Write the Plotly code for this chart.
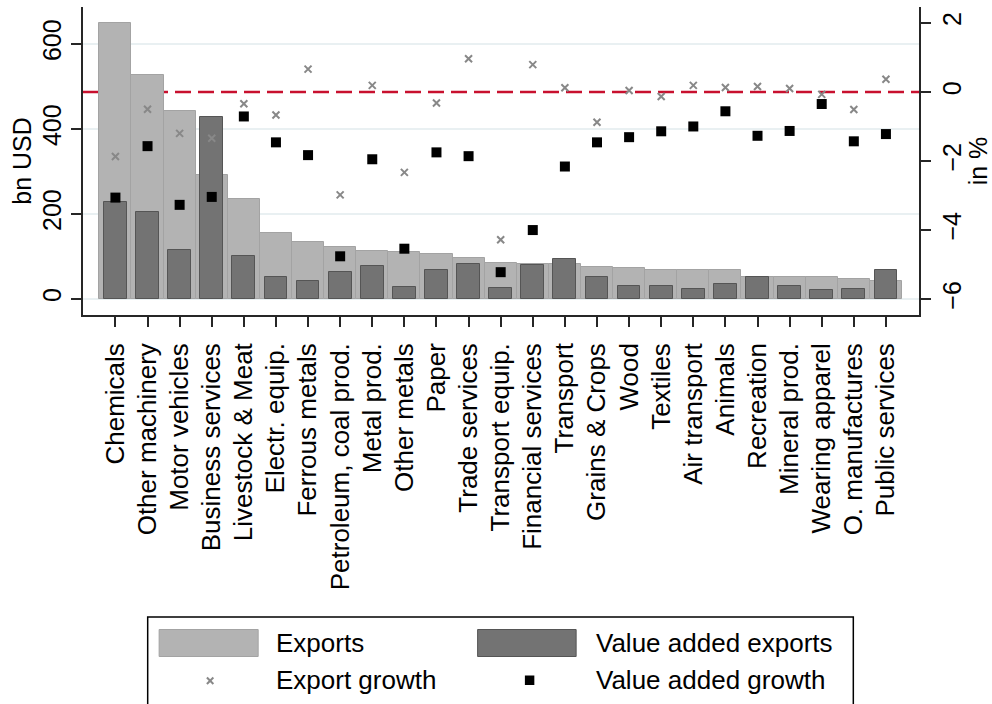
import plotly.graph_objects as go

# ---------------- data ----------------
categories = ["Chemicals", "Other machinery", "Motor vehicles", "Business services",
              "Livestock & Meat", "Electr. equip.", "Ferrous metals", "Petroleum, coal prod.",
              "Metal prod.", "Other metals", "Paper", "Trade services", "Transport equip.",
              "Financial services", "Transport", "Grains & Crops", "Wood", "Textiles",
              "Air transport", "Animals", "Recreation", "Mineral prod.", "Wearing apparel",
              "O. manufactures", "Public services"]

exports = [649, 528, 442, 292, 235, 155, 133, 122, 113, 110, 105, 97, 85, 82, 81,
           75, 72, 67.5, 67.5, 67, 52, 51, 50.5, 46.5, 42.5]

va_exports = [228, 205, 115, 428, 100, 52, 42, 63, 77, 27.5, 67.5, 83, 26.5, 79, 94,
              52, 29.5, 30.5, 23.5, 34.5, 51, 30, 22, 23.5, 67.5]

export_growth = [-1.87, -0.50, -1.20, -1.34, -0.34, -0.67, 0.66, -2.98, 0.19, -2.33,
                 -0.32, 0.96, -4.28, 0.79, 0.12, -0.88, 0.04, -0.13, 0.19, 0.13,
                 0.16, 0.10, -0.07, -0.51, 0.37]

va_growth = [-3.06, -1.57, -3.27, -3.04, -0.71, -1.46, -1.83, -4.76, -1.95, -4.54,
             -1.75, -1.86, -5.22, -4.00, -2.16, -1.46, -1.31, -1.14, -1.00, -0.56,
             -1.27, -1.13, -0.35, -1.43, -1.22]

left_ticks = [0, 200, 400, 600]
right_ticks = [-6, -4, -2, 0, 2]
legend_labels = ["Exports", "Value added exports", "Export growth", "Value added growth"]

# ---------------- styling ----------------
FONT = "Liberation Sans"
LIGHT = "#b3b3b3"
DARK = "#737373"
AXIS = "#262626"
GRID = "#e9f0f2"
RED = "#c8102e"

W, H = 992, 704
L, R, T, B = 83, 69, 7, 389
PW, PH = W - L - R, H - T - B


def px(x):
    return (x - L) / PW


def py(y):
    return (H - B - y) / PH


fig = go.Figure()

fig.add_trace(go.Bar(x=categories, y=exports, name=legend_labels[0], width=1.0,
                     marker=dict(color=LIGHT, line=dict(color="#a3a3a3", width=1)),
                     yaxis="y", showlegend=False))
fig.add_trace(go.Bar(x=categories, y=va_exports, name=legend_labels[1], width=0.71,
                     marker=dict(color=DARK, line=dict(color="#555555", width=1)),
                     yaxis="y", showlegend=False))
fig.add_trace(go.Scatter(x=categories, y=export_growth, name=legend_labels[2], mode="markers",
                         marker=dict(symbol="x-thin", size=7, color="#888888",
                                     line=dict(color="#888888", width=2)),
                         yaxis="y2", showlegend=False))
fig.add_trace(go.Scatter(x=categories, y=va_growth, name=legend_labels[3], mode="markers",
                         marker=dict(symbol="square", size=10, color="black",
                                     line=dict(width=0)),
                         yaxis="y2", showlegend=False))

shapes = [
    dict(type="line", xref="paper", x0=0, x1=1, yref="y2", y0=0, y1=0,
         line=dict(color=RED, width=2.5, dash="16px,7px"), layer="below"),
    # legend box
    dict(type="rect", xref="paper", yref="paper", x0=px(148), x1=px(857),
         y0=py(617), y1=py(707), line=dict(color="black", width=1.5), fillcolor="white"),
    dict(type="rect", xref="paper", yref="paper", x0=px(159.5), x1=px(259),
         y0=py(629.5), y1=py(656.5), line=dict(color="#a3a3a3", width=1), fillcolor=LIGHT),
    dict(type="rect", xref="paper", yref="paper", x0=px(479.5), x1=px(578.5),
         y0=py(629.5), y1=py(656.5), line=dict(color="#555555", width=1), fillcolor=DARK),
    dict(type="line", xref="paper", yref="paper", x0=px(207.5), x1=px(214),
         y0=py(677.5), y1=py(684), line=dict(color="#888888", width=2)),
    dict(type="line", xref="paper", yref="paper", x0=px(207.5), x1=px(214),
         y0=py(684), y1=py(677.5), line=dict(color="#888888", width=2)),
    dict(type="rect", xref="paper", yref="paper", x0=px(527), x1=px(536.5),
         y0=py(675.5), y1=py(685), line=dict(width=0), fillcolor="black"),
]

annotations = []
for label, (lx, ly) in zip(legend_labels, [(275, 643), (596, 643), (275, 680), (596, 680)]):
    annotations.append(dict(text=label, xref="paper", yref="paper", x=px(lx), y=py(ly),
                            xanchor="left", yanchor="middle", showarrow=False,
                            font=dict(family=FONT, size=26, color="black")))

fig.update_layout(
    width=W, height=H,
    margin=dict(l=L, r=R, t=T, b=B, pad=0),
    paper_bgcolor="white", plot_bgcolor="white",
    barmode="overlay", bargap=0,
    showlegend=False,
    font=dict(family=FONT, size=25, color="black"),
    shapes=shapes, annotations=annotations,
    xaxis=dict(type="category", categoryorder="array", categoryarray=categories,
               range=[-1.01, 25.03], showline=True, linecolor=AXIS, linewidth=1.5,
               ticks="outside", ticklen=10, tickwidth=1.5, tickcolor=AXIS,
               tickangle=-90, ticklabelstandoff=6,
               tickfont=dict(family=FONT, size=26, color="black"),
               showgrid=False, zeroline=False),
    yaxis=dict(range=[-38, 687], tickvals=left_ticks, showline=True, linecolor=AXIS,
               linewidth=1.5, ticks="outside", ticklen=10, tickwidth=1.5, tickcolor=AXIS,
               tickangle=-90, tickfont=dict(family=FONT, size=25, color="black"),
               showgrid=True, gridcolor=GRID, gridwidth=2, zeroline=False,
               title=dict(text="bn USD", font=dict(family=FONT, size=25), standoff=0)),
    yaxis2=dict(range=[-6.46, 2.46], tickvals=right_ticks, overlaying="y", side="right",
                showline=True, linecolor=AXIS, linewidth=1.5, ticks="outside", ticklen=10,
                tickwidth=1.5, tickcolor=AXIS, tickangle=-90,
                tickfont=dict(family=FONT, size=25, color="black"),
                showgrid=False, zeroline=False,
                title=dict(text="in %", font=dict(family=FONT, size=25), standoff=2)),
)

fig.write_html("out.html", config={"displayModeBar": False},
               post_script="document.body.style.margin='0';document.body.style.overflow='hidden';")
